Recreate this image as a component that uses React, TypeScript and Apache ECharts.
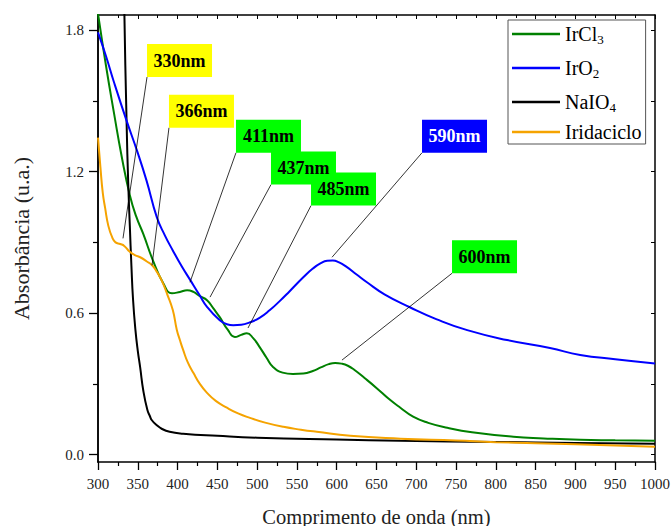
import React, { useEffect, useRef } from "react";
import * as echarts from "echarts";

// ---------- data ----------
const irCl3X = [300, 310, 320, 330, 340, 348, 357, 369, 382, 393, 403, 412, 420, 428, 437, 445, 453, 463, 472, 480, 487, 495, 504, 512, 520, 532, 545, 558, 570, 580, 590, 598, 606, 614, 622, 635, 651, 665, 680, 696, 715, 739, 770, 822, 860, 906, 950, 1000];
const irCl3Y = [1.87, 1.65, 1.45, 1.26, 1.1, 1.01, 0.935, 0.824, 0.727, 0.684, 0.69, 0.697, 0.69, 0.672, 0.655, 0.62, 0.583, 0.53, 0.499, 0.508, 0.515, 0.494, 0.452, 0.41, 0.372, 0.348, 0.342, 0.344, 0.355, 0.37, 0.384, 0.389, 0.386, 0.377, 0.36, 0.325, 0.28, 0.238, 0.199, 0.161, 0.135, 0.114, 0.095, 0.076, 0.069, 0.063, 0.061, 0.059];

const irO2X = [300, 310, 320, 336, 349, 361, 374, 384, 394, 405, 416, 427, 437, 453, 462, 470, 480, 490, 503, 516, 528, 540, 558, 570, 580, 588, 595, 603, 612, 625, 638, 660, 692, 725, 764, 814, 868, 906, 950, 1000];
const irO2Y = [1.79, 1.69, 1.58, 1.415, 1.289, 1.162, 1.006, 0.93, 0.866, 0.8, 0.74, 0.68, 0.627, 0.57, 0.553, 0.549, 0.551, 0.56, 0.58, 0.613, 0.65, 0.69, 0.752, 0.789, 0.812, 0.822, 0.823, 0.815, 0.797, 0.764, 0.731, 0.68, 0.625, 0.575, 0.528, 0.486, 0.452, 0.423, 0.405, 0.387];

const naIO4X = [330, 333, 336, 338, 340, 342, 344, 347, 350, 353, 357, 362, 365, 368, 374, 380, 390, 407, 450, 500, 600, 680, 800, 900, 1000];
const naIO4Y = [2.6, 1.9, 1.4, 1.15, 0.97, 0.8, 0.66, 0.53, 0.44, 0.37, 0.27, 0.19, 0.165, 0.145, 0.125, 0.11, 0.097, 0.089, 0.08, 0.072, 0.064, 0.059, 0.054, 0.05, 0.046];

const iridX = [300, 303, 306, 309, 313, 318, 322, 328, 333, 340, 347, 353, 361, 368, 374, 380, 387, 394, 399, 403, 407, 413, 420, 428, 437, 448, 462, 476, 491, 510, 533, 555, 575, 617, 680, 750, 800, 900, 1000];
const iridY = [1.344, 1.22, 1.11, 1.045, 0.97, 0.92, 0.9, 0.893, 0.885, 0.86, 0.845, 0.837, 0.82, 0.803, 0.775, 0.739, 0.68, 0.613, 0.53, 0.485, 0.444, 0.39, 0.346, 0.3, 0.262, 0.228, 0.199, 0.175, 0.156, 0.136, 0.118, 0.106, 0.097, 0.08, 0.068, 0.06, 0.053, 0.044, 0.034];

const seriesNames = ["IrCl3", "IrO2", "NaIO4", "Iridaciclo"];
const legendMain = ["IrCl", "IrO", "NaIO", "Iridaciclo"];
const legendSub = ["3", "2", "4", ""];

const xRange = [300, 1000];
const yTickLabels = [0, 0.6, 1.2, 1.8];
const yMinorTicks = [0.3, 0.9, 1.5];

// annotations: label, box anchor (bottom-left) in data units, target point on curve
const annotLabels = ["330nm", "366nm", "411nm", "437nm", "485nm", "590nm", "600nm"];
const annotBoxX = [361.6, 389.2, 473.4, 517.4, 567.7, 707.2, 744.9];
const annotBoxY = [1.601, 1.386, 1.28, 1.145, 1.056, 1.28, 0.769];
const annotTargetX = [331.4, 367.9, 415.6, 440.8, 488.5, 594.1, 606.6];
const annotTargetY = [0.917, 0.803, 0.731, 0.668, 0.537, 0.837, 0.401];
const annotKind = ["y", "y", "g", "g", "g", "b", "g"];

// ---------- styles ----------
const FONT = "Liberation Serif";
const colors = ["#008000", "#0000ff", "#000000", "#f5a300"];
const boxFill: Record<string, string> = { y: "#ffff00", g: "#00ff00", b: "#0000ff" };
const boxText: Record<string, string> = { y: "#000000", g: "#000000", b: "#ffffff" };

const Y_MIN = -0.031;
const Y_MAX = 1.864;

function zip(xs: number[], ys: number[]) {
  return xs.map((x, i) => [x, ys[i]]);
}

export default function App() {
  const ref = useRef<HTMLDivElement>(null);
  useEffect(() => {
    if (!ref.current) return;
    const chart = echarts.init(ref.current, null, { renderer: "svg" });
    const xData = [zip(irCl3X, irCl3Y), zip(irO2X, irO2Y), zip(naIO4X, naIO4Y), zip(iridX, iridY)];

    const leaderLines = annotLabels.map((_, i) => [
      { coord: [annotBoxX[i], annotBoxY[i]] },
      { coord: [annotTargetX[i], annotTargetY[i]] },
    ]);
    const boxes = annotLabels.map((lab, i) => ({
      coord: [annotBoxX[i], annotBoxY[i]],
      value: lab,
      itemStyle: { color: boxFill[annotKind[i]] },
      label: { color: boxText[annotKind[i]] },
    }));

    const baseYAxis = {
      type: "value",
      min: Y_MIN,
      max: Y_MAX,
      splitLine: { show: false },
      axisLine: { show: true, onZero: false, lineStyle: { color: "#000", width: 1.5 } },
    };

    const series: any[] = seriesNames.map((name, i) => ({
      name,
      type: "line",
      data: xData[i],
      showSymbol: false,
      symbol: "none",
      smooth: 0.5,
      clip: true,
      lineStyle: { color: colors[i], width: 2 },
      itemStyle: { color: colors[i] },
      z: i === 1 ? 3 : 2,
    }));
    series[0].markLine = {
      silent: true,
      symbol: ["none", "none"],
      label: { show: false },
      lineStyle: { color: "#000", width: 0.8, type: "solid" },
      data: leaderLines,
      z: 5,
    };
    series[0].markPoint = {
      silent: true,
      symbol: "rect",
      symbolSize: [65, 33],
      symbolOffset: [32.5, -16.5],
      label: {
        show: true,
        position: "inside",
        fontFamily: FONT,
        fontWeight: "bold",
        fontSize: 18,
        formatter: (p: any) => p.value,
      },
      data: boxes,
      z: 6,
    };

    chart.setOption({
      animation: false,
      backgroundColor: "#fff",
      grid: { left: 98, right: 17, top: 15, bottom: 64, containLabel: false, outerBoundsMode: "none" },
      legend: {
        show: true,
        data: seriesNames,
        orient: "vertical",
        left: 508,
        top: 20,
        icon: "rect",
        itemWidth: 48,
        itemHeight: 2.5,
        itemGap: 8,
        padding: [0, 4, 2, 4],
        borderColor: "#555",
        borderWidth: 1,
        backgroundColor: "#fff",
        formatter: (name: string) => {
          const i = seriesNames.indexOf(name);
          return legendSub[i]
            ? `{m|${legendMain[i]}}{s|${legendSub[i]}}`
            : `{m|${legendMain[i]}}`;
        },
        textStyle: {
          fontFamily: FONT,
          color: "#000",
          rich: {
            m: { fontFamily: FONT, fontSize: 20, lineHeight: 24, color: "#000" },
            s: { fontFamily: FONT, fontSize: 13, lineHeight: 24, color: "#000", verticalAlign: "bottom", padding: [13, 0, 0, 0] },
          },
        },
      },
      xAxis: [
        {
          type: "value",
          position: "bottom",
          min: xRange[0],
          max: xRange[1],
          interval: 50,
          name: "Comprimento de onda (nm)",
          nameLocation: "middle",
          nameGap: 44,
          nameTextStyle: { fontFamily: FONT, fontSize: 20.5, color: "#222" },
          axisLine: { show: true, onZero: false, lineStyle: { color: "#000", width: 1.5 } },
          axisTick: { show: true, inside: false, length: 8, lineStyle: { color: "#000", width: 1.3 } },
          minorTick: { show: true, splitNumber: 2, length: 4, lineStyle: { color: "#000", width: 1.2 } },
          axisLabel: { fontFamily: FONT, fontSize: 15, color: "#222", margin: 14, formatter: (v: number) => String(v) },
          splitLine: { show: false },
        },
        {
          type: "value",
          position: "top",
          min: xRange[0],
          max: xRange[1],
          interval: 50,
          axisLine: { show: true, onZero: false, lineStyle: { color: "#000", width: 1.5 } },
          axisTick: { show: true, inside: true, length: 4, lineStyle: { color: "#000", width: 1 } },
          minorTick: { show: true, splitNumber: 2, length: 3, lineStyle: { color: "#000", width: 1 } },
          axisLabel: { show: false },
          splitLine: { show: false },
        },
      ],
      yAxis: [
        {
          ...baseYAxis,
          position: "left",
          name: "Absorbância (u.a.)",
          nameLocation: "middle",
          nameGap: 66,
          nameTextStyle: { fontFamily: FONT, fontSize: 22, color: "#222" },
          axisTick: { show: true, inside: false, length: 9, customValues: yTickLabels, lineStyle: { color: "#000", width: 1.3 } },
          axisLabel: {
            fontFamily: FONT,
            fontSize: 15,
            color: "#222",
            margin: 14,
            customValues: yTickLabels,
            formatter: (v: number) => v.toFixed(1),
          },
        },
        {
          ...baseYAxis,
          position: "left",
          offset: 0,
          axisTick: { show: true, inside: false, length: 5, customValues: yMinorTicks, lineStyle: { color: "#000", width: 1.2 } },
          axisLabel: { show: false },
        },
        {
          ...baseYAxis,
          position: "right",
          offset: 0,
          axisTick: { show: true, inside: true, length: 4, customValues: [...yTickLabels, ...yMinorTicks], lineStyle: { color: "#000", width: 1 } },
          axisLabel: { show: false },
        },
      ],
      series,
    });
    return () => chart.dispose();
  }, []);
  return <div ref={ref} style={{ position: "fixed", left: 0, top: 0, width: 672, height: 526 }} />;
}
